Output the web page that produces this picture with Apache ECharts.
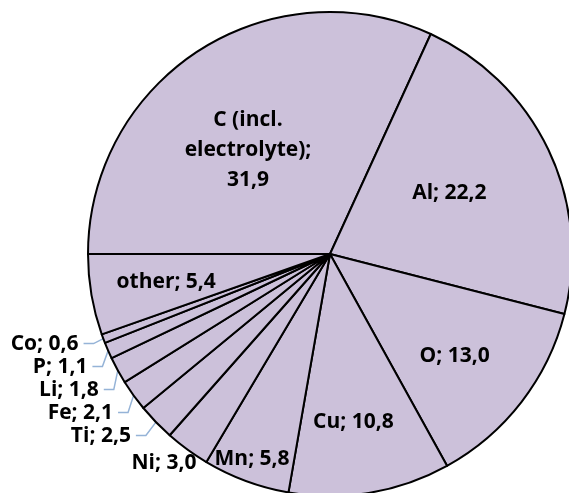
<!DOCTYPE html>
<html>
<head>
<meta charset="utf-8">
<title>Material shares</title>
<script src="https://cdn.jsdelivr.net/npm/echarts@6/dist/echarts.min.js"></script>
<style>
  html, body { margin: 0; padding: 0; background: #fff; }
  #chart { width: 569px; height: 493px; }
</style>
</head>
<body>
<div id="chart"></div>
<script>
// share of each element, in %
var elements = ['C (incl. electrolyte)', 'Al', 'O', 'Cu', 'Mn', 'Ni', 'Ti', 'Fe', 'Li', 'P', 'Co', 'other']
var shares = [31.9, 22.2, 13.0, 10.8, 5.8, 3.0, 2.5, 2.1, 1.8, 1.1, 0.6, 5.4]

// small slices get a label outside with a leader line
var outsideLabels = ['Ti', 'Fe', 'Li', 'P', 'Co']

// inside labels: [radius factor vs the default half radius, turn in degrees]
var labelPush = {
  'C (incl. electrolyte)': [1.07, 5.5],
  Al: [1.08, 1.5],
  O: [1.3, -1.6],
  Cu: [1.37, -1.6],
  Mn: [1.77, -0.5],
  Ni: [2.15, -2.4],
  other: [1.34, 0]
}

var CX = 330, CY = 254, R = 242

function fmt(v) {
  return v.toFixed(1).replace('.', ',')
}

var chart = echarts.init(document.getElementById('chart'))

var pieData = elements.map(function (name, i) {
  var item = { name: name, value: shares[i] }
  if (outsideLabels.indexOf(name) >= 0) {
    item.label = { position: 'outside', lineHeight: 18, overflow: 'none' }
    item.labelLine = { show: true }
  }
  return item
})

chart.setOption({
  animation: false,
  series: [{
    type: 'pie',
    center: [CX, CY],
    radius: R,
    startAngle: 180,
    clockwise: true,
    minShowLabelAngle: 0,
    data: pieData,
    itemStyle: {
      color: '#CCC1DA',
      borderColor: '#000',
      borderWidth: 2
    },
    label: {
      position: 'inside',
      color: '#000',
      fontFamily: 'Open Sans',
      fontWeight: 'bold',
      fontSize: 21,
      lineHeight: 30,
      formatter: function (p) {
        // the long carbon label wraps onto three lines
        if (p.name.indexOf('electrolyte') >= 0) {
          return 'C (incl.\nelectrolyte);\n' + fmt(p.value)
        }
        return p.name + '; ' + fmt(p.value)
      }
    },
    labelLine: {
      show: false,
      length: 14,
      length2: 10,
      lineStyle: { color: '#95B3D7', width: 1.5 }
    },
    labelLayout: function (params) {
      var push = labelPush[elements[params.dataIndex]]
      if (!push) return {}
      var r = params.labelRect
      var x = r.x + r.width / 2 - CX
      var y = r.y + r.height / 2 - CY
      var dist = Math.sqrt(x * x + y * y) * push[0]
      var ang = Math.atan2(-y, x) + push[1] * Math.PI / 180
      return { dx: dist * Math.cos(ang) - x, dy: -dist * Math.sin(ang) - y }
    },
    emphasis: { disabled: true }
  }]
})
</script>
</body>
</html>
